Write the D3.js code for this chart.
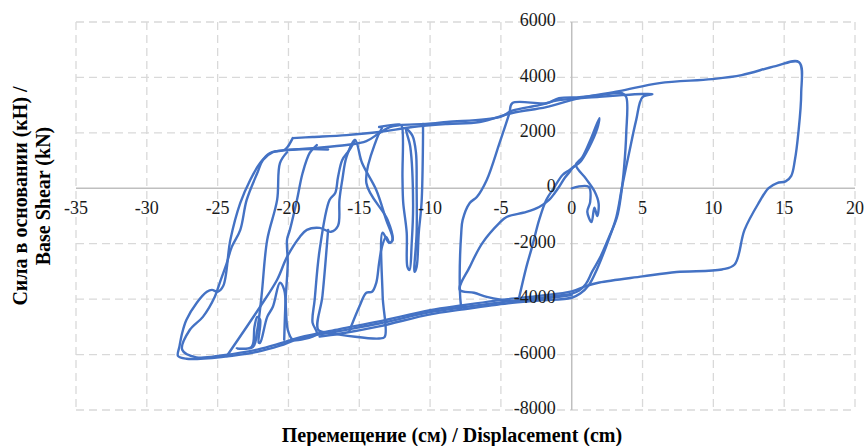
<!DOCTYPE html>
<html>
<head>
<meta charset="utf-8">
<script src="https://cdn.jsdelivr.net/npm/d3@7"></script>
<style>
  body { margin: 0; background: #fff; }
  svg { display: block; }
</style>
</head>
<body>
<div id="chart"></div>
<script>
// axis ticks
const xTicks = [-35, -30, -25, -20, -15, -10, -5, 0, 5, 10, 15, 20];
const yTicks = [-8000, -6000, -4000, -2000, 0, 2000, 4000, 6000];

// hysteresis strokes, [displacement cm, base shear kN]
const segStart = [[0,0],[1.2,50],[1.3,-500],[1.1,-850],[1.4,-1220],[1.6,-700],[1.8,-1000],[1.9,-550],[1.6,-100],[1.0,350],[0.3,840],[0.75,1125],[1.4,1845],[1.95,2530],[1.8,2150],[1.2,1450],[0.6,950],[0.05,735],[-0.15,590],[-0.5,370],[-0.9,45],[-1.2,-170],[-1.6,-420],[-2.3,-675],[-3.2,-855],[-4.6,-1035],[-5.1,-1250],[-6.3,-1970],[-7.2,-2835],[-7.9,-3665],[-6.9,-3770],[-6.0,-3915],[-5.0,-4020],[-4.0,-4080],[-2.3,-4000],[0,-3850]];
const segSteep = [[-3.7,-3915],[-3.2,-2835],[-2.8,-2115],[-2.3,-1140],[-1.8,-420],[-1.35,-60],[-0.65,480],[-0.15,660],[0.3,840]];
const segLoop8 = [[-7.8,-4350],[-7.9,-3665],[-7.8,-1610],[-7.7,-1140],[-7.2,-530],[-6.7,-315],[-6.0,300],[-5.1,1630],[-4.4,2715],[-4.2,3070],[-1.8,3070],[-0.9,3250],[0.55,3290],[1.95,3360],[3.55,3435],[3.85,3290],[3.85,2000],[3.7,770],[3.5,-170],[3.2,-1035],[2.6,-1800],[2.0,-2500],[1.45,-3000],[1.0,-3450],[0.5,-3700],[0,-3800],[-2.3,-3950],[-4.5,-4080],[-7.8,-4300],[-10,-4470],[-13.6,-4880],[-16.4,-5150],[-19.2,-5420],[-20.6,-5680],[-22.2,-5900],[-24.6,-6080],[-27.2,-6150],[-27.8,-6050],[-27.7,-5720],[-27.5,-5215],[-27.2,-4745],[-26.47,-4130],[-25.76,-3735],[-25.4,-3665],[-25.0,-3735],[-24.6,-3520],[-24.1,-1860],[-23.4,-530],[-22.7,300],[-22.0,910],[-21.3,1275],[-20.1,1380],[-18.3,1420],[-17.2,1400]];
const segBig = [[-19.7,1810],[-18.3,1850],[-15.9,1920],[-13.6,2030],[-11.25,2210],[-8.8,2320],[-6.5,2390],[-4.2,2715],[-1.8,2930],[0.55,3255],[3.35,3505],[6.2,3795],[9.9,3940],[12.0,4085],[14.4,4410],[16.05,4550],[16.2,3400],[16.0,2000],[15.75,1000],[15.5,450],[15.1,250],[14.5,190],[13.9,10],[13.2,-530],[12.2,-1500],[11.5,-2750],[10.6,-2930],[7.4,-3020],[5.0,-3180],[1.95,-3400],[1.05,-3520],[0,-3720],[-2.3,-3880],[-4.5,-4000],[-7.8,-4230],[-10,-4400],[-13.6,-4800],[-16.4,-5080],[-19.2,-5380],[-20.6,-5600],[-22.2,-5820],[-24.6,-6020],[-26.5,-6100],[-27.5,-5825],[-26.96,-5105],[-26.04,-4640],[-25.2,-3915],[-24.85,-3410],[-24.35,-2690],[-24.0,-2115],[-23.4,-1500],[-22.95,-420],[-22.2,550],[-21.8,1020],[-21.1,1300],[-20.3,1380],[-20.05,1500],[-19.7,1810]];
const segUpper = [[-20.1,1380],[-18.3,1450],[-15.9,1560],[-14.5,1700],[-13.6,1990],[-12.85,2210],[-12.15,2280],[-10.3,2320],[-8.8,2390],[-5.1,2570],[-4.2,2800],[-2.3,3000],[-0.9,3180],[1.95,3300],[3.55,3360],[5.0,3400],[5.7,3400],[5.0,3290],[4.55,2460],[4.05,1275],[3.55,45],[3.15,-1035],[2.5,-2000],[1.8,-2900],[1.2,-3500],[0.6,-3800],[0,-3950],[-2.3,-4050],[-4.5,-4150],[-7.8,-4380],[-10,-4550],[-13.6,-4980],[-16.4,-5250],[-17.8,-5350]];
const segLeft = [[-20.1,1300],[-20.6,910],[-20.8,-420],[-21.5,-1860],[-21.9,-3880],[-22.2,-5105],[-22.5,-5720],[-23.65,-5780],[-22.6,-5720],[-22.4,-5000],[-22.2,-4640],[-22.0,-4745],[-22.1,-5575],[-22.0,-5575],[-21.5,-4640],[-21.1,-4275],[-20.6,-3410],[-20.3,-3665],[-20.05,-5105],[-19.7,-5465],[-19.0,-5450],[-18.0,-5250],[-18.3,-4850],[-18.15,-4025],[-17.8,-2225],[-17.1,-420],[-16.7,-170],[-16.5,410],[-16.2,1020],[-15.7,1380],[-15.3,1740]];
const segMid = [[-18.0,1560],[-18.5,1275],[-19.0,550],[-19.4,-420],[-19.9,-1500],[-20.1,-1860],[-20.05,-2700],[-20.2,-4000],[-20.3,-5465]];
const segDiag = [[-24.35,-6050],[-22.0,-4275],[-20.8,-3300],[-20.1,-2475],[-19.2,-1755],[-18.7,-1500],[-17.8,-1430],[-17.0,-1570],[-16.5,-1350],[-16.4,-420],[-16.2,300],[-15.9,1130],[-15.3,1740],[-14.8,910],[-13.8,-60],[-13.1,-1140],[-12.65,-1860],[-12.9,-1970],[-13.35,-1600],[-13.35,-3880],[-13.2,-5360],[-13.6,-5420],[-17.1,-5215],[-17.9,-5105],[-17.6,-3880],[-17.2,-1500]];
const segRise = [[-15.7,-5150],[-15.0,-4275],[-14.5,-3770],[-14.1,-3735],[-13.8,-3410],[-13.6,-2690],[-13.4,-2115],[-13.1,-1755],[-12.85,-1970],[-12.65,-1860],[-13.0,-1140],[-14.5,190],[-13.8,1740],[-13.4,2175]];
const segSpikes = [[-13.6,2210],[-12.15,2300],[-12.0,2250],[-11.95,400],[-11.9,-500],[-11.65,-1610],[-11.6,-2835],[-11.45,-2945],[-11.3,-2000],[-11.2,-600],[-11.4,1500],[-11.7,2150],[-11.25,1900],[-11.0,1300],[-10.95,0],[-10.95,-1610],[-11.1,-3015],[-10.95,-2835],[-10.8,-1610],[-10.6,-500],[-10.5,1800],[-10.5,2320]];

const segments = [segStart, segSteep, segLoop8, segBig, segUpper, segLeft, segMid, segDiag, segRise, segSpikes];

const width = 865, height = 446;
const svg = d3.select("#chart").append("svg")
    .attr("width", width)
    .attr("height", height);

const x = d3.scaleLinear().domain([-35, 20]).range([76, 855]);
const y = d3.scaleLinear().domain([-8000, 6000]).range([410, 22]);

const serif = "'Liberation Serif', 'Times New Roman', serif";

// dashed grid
svg.append("g").selectAll("line")
    .data(xTicks.filter(d => d !== 0))
    .join("line")
    .attr("x1", d => x(d)).attr("x2", d => x(d))
    .attr("y1", y(6000)).attr("y2", y(-8000))
    .attr("stroke", "#d9d9d9")
    .attr("stroke-width", 1.3)
    .attr("stroke-dasharray", "8,5");

svg.append("g").selectAll("line")
    .data(yTicks.filter(d => d !== 0))
    .join("line")
    .attr("x1", x(-35)).attr("x2", x(20))
    .attr("y1", d => y(d)).attr("y2", d => y(d))
    .attr("stroke", "#d9d9d9")
    .attr("stroke-width", 1.3)
    .attr("stroke-dasharray", "8,5");

// axes crossing at zero
svg.append("line")
    .attr("x1", x(-35)).attr("x2", x(20))
    .attr("y1", y(0)).attr("y2", y(0))
    .attr("stroke", "#bfbfbf").attr("stroke-width", 1.5);
svg.append("line")
    .attr("x1", x(0)).attr("x2", x(0))
    .attr("y1", y(6000)).attr("y2", y(-8000))
    .attr("stroke", "#bfbfbf").attr("stroke-width", 1.5);

// curve
const line = d3.line()
    .x(d => x(d[0]))
    .y(d => y(d[1]))
    .curve(d3.curveCatmullRom.alpha(0.5));

svg.append("g").selectAll("path")
    .data(segments)
    .join("path")
    .attr("d", line)
    .attr("fill", "none")
    .attr("stroke", "#4472c4")
    .attr("stroke-width", 2.4)
    .attr("stroke-linejoin", "round")
    .attr("stroke-linecap", "round");

// tick labels
svg.append("g").selectAll("text")
    .data(xTicks)
    .join("text")
    .attr("x", d => x(d))
    .attr("y", y(0) + 22)
    .attr("text-anchor", "middle")
    .attr("dominant-baseline", "middle")
    .style("font-family", serif)
    .style("font-size", "18px")
    .attr("fill", "#1a1a1a")
    .text(d => d);

svg.append("g").selectAll("text")
    .data(yTicks)
    .join("text")
    .attr("x", x(0) - 16)
    .attr("y", d => y(d))
    .attr("text-anchor", "end")
    .attr("dominant-baseline", "middle")
    .style("font-family", serif)
    .style("font-size", "18px")
    .attr("fill", "#1a1a1a")
    .text(d => d);

// axis titles
svg.append("text")
    .attr("x", 452)
    .attr("y", 437)
    .attr("text-anchor", "middle")
    .attr("dominant-baseline", "middle")
    .style("font-family", serif)
    .style("font-size", "20px")
    .style("font-weight", "bold")
    .text("Перемещение (см) / Displacement (cm)");

const yTitle = svg.append("text")
    .attr("transform", "translate(20,196) rotate(-90)")
    .attr("text-anchor", "middle")
    .style("font-family", serif)
    .style("font-size", "20px")
    .style("font-weight", "bold");
yTitle.append("tspan").attr("x", 0).attr("dy", "0.35em").text("Сила в основании (кН) /");
yTitle.append("tspan").attr("x", 0).attr("dy", "1.15em").text("Base Shear (kN)");
</script>
</body>
</html>
